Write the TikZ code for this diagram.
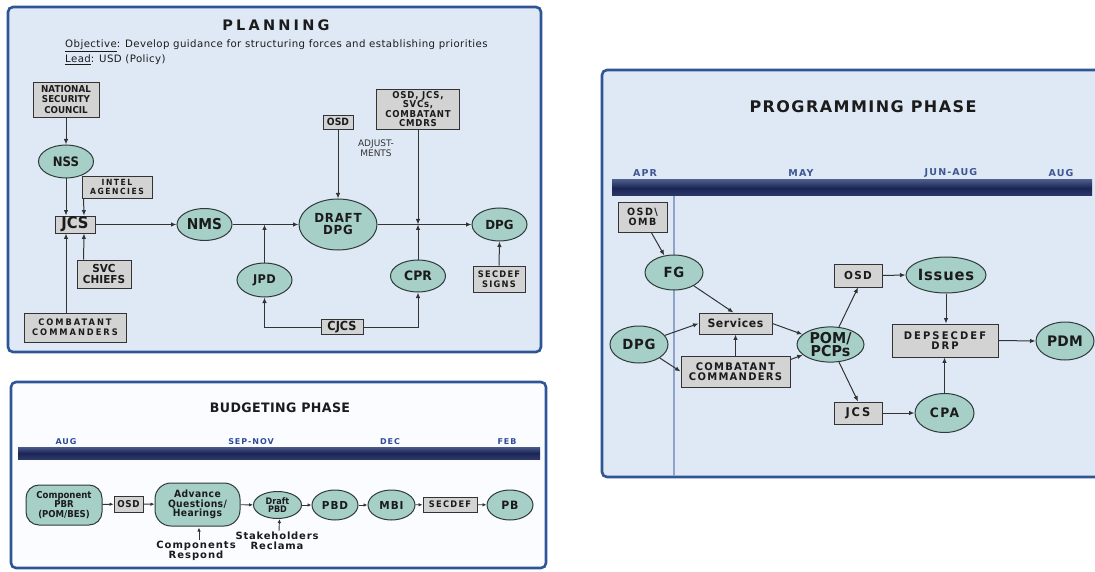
\documentclass[tikz,border=0pt]{standalone}
\usepackage{fontspec}
\setmainfont{DejaVu Sans}
\usetikzlibrary{arrows.meta,shapes.geometric,shadows,calc}

\definecolor{panelfill}{HTML}{DFE9F6}
\definecolor{budgetfill}{HTML}{FBFCFF}
\definecolor{panelline}{HTML}{2F5597}
\definecolor{ovalfill}{HTML}{A6CFC8}
\definecolor{ovalline}{HTML}{2E3B39}
\definecolor{boxfill}{HTML}{D3D3D3}
\definecolor{boxline}{HTML}{333333}
\definecolor{bartop}{HTML}{4A5A88}
\definecolor{barmid}{HTML}{1B2656}
\definecolor{barbot}{HTML}{2C3968}
\definecolor{monthblue}{HTML}{2E4C96}
\definecolor{inkdark}{HTML}{1B1B1B}
\definecolor{divider}{HTML}{8FA3C9}

% bold label font: size, leading, letter spacing, horizontal stretch
\newcommand{\lbl}[4]{\fontsize{#1}{#2}\selectfont\bfseries\addfontfeature{LetterSpace=#3,FakeStretch=#4}}
% regular body text of the planning header
\newcommand{\hdr}{\fontsize{10.2}{11}\selectfont\addfontfeature{LetterSpace=4}}

\tikzset{
  oval/.style={ellipse, draw=ovalline, line width=1pt, fill=ovalfill,
    inner sep=0pt, align=center, text=inkdark},
  rbox/.style={rectangle, draw=boxline, line width=0.9pt, fill=boxfill,
    inner sep=0pt, align=center, text=inkdark,
    general shadow={fill=black!55, shadow xshift=0.9pt, shadow yshift=-0.9pt}},
  pill/.style={rectangle, draw=ovalline, line width=1pt, fill=ovalfill,
    inner sep=0pt, align=center, text=inkdark},
  flow/.style={-{Latex[length=5.5pt,width=4.5pt]}, line width=1pt, draw=boxline},
  flowsm/.style={-{Latex[length=4pt,width=3.5pt]}, line width=0.9pt, draw=boxline},
  panel/.style={draw=panelline, line width=2.6pt, rounded corners=5pt},
  month/.style={text=monthblue, inner sep=0pt},
  tbar/.style={top color=bartop, bottom color=barbot, middle color=barmid},
  plain/.style={inner sep=0pt, align=center, text=inkdark}
}

\begin{document}
\begin{tikzpicture}[x=1pt,y=-1pt]
\useasboundingbox (0,0) rectangle (1095,572);
\fill[white] (0,0) rectangle (1095,572);

% ---------------- PLANNING ----------------
\draw[panel, fill=panelfill] (8,7) rectangle (541,352);
\node[plain, font={\lbl{14.5}{15}{22}{1}}] (plantitle) at (276,25) {PLANNING};
\node[plain, anchor=west, font=\hdr] (objline) at (65,46)
  {\underline{Objective}: Develop guidance for structuring forces and establishing priorities};
\node[plain, anchor=west, font=\hdr] (leadline) at (65,60)
  {\underline{Lead}: USD (Policy)};

\node[rbox, minimum width=66pt, minimum height=35pt, font={\lbl{9.5}{10.5}{0}{0.92}}] (nsc) at (66,99.5) {NATIONAL\\SECURITY\\COUNCIL};
\node[oval, minimum width=55pt, minimum height=33pt, font={\lbl{13}{13}{0}{0.9}}] (nss) at (66,161.5) {NSS};
\node[rbox, minimum width=70pt, minimum height=22pt, font={\lbl{8.5}{9}{18}{0.9}}] (intel) at (117,187) {INTEL\\AGENCIES};
\node[rbox, minimum width=40pt, minimum height=17pt, font={\lbl{16}{16}{0}{0.92}}] (jcs) at (75,224.5) {JCS};
\node[oval, minimum width=55pt, minimum height=32pt, font={\lbl{15}{15}{0}{0.92}}] (nms) at (204.5,224.5) {NMS};
\node[oval, minimum width=78pt, minimum height=51pt, font={\lbl{12.5}{12}{6}{0.95}}] (draft) at (338,224.5) {DRAFT\\DPG};
\node[oval, minimum width=55pt, minimum height=33pt, font={\lbl{12.5}{12.5}{0}{0.95}}] (dpgp) at (499.5,224.5) {DPG};
\node[rbox, minimum width=54pt, minimum height=28pt, font={\lbl{11}{11}{0}{0.95}}] (svc) at (104,274) {SVC\\CHIEFS};
\node[oval, minimum width=55pt, minimum height=34pt, font={\lbl{12}{12}{2}{0.95}}] (jpd) at (264.5,280) {JPD};
\node[oval, minimum width=55pt, minimum height=32pt, font={\lbl{13}{13}{0}{0.95}}] (cpr) at (418,276) {CPR};
\node[rbox, minimum width=52pt, minimum height=26pt, font={\lbl{9}{9.5}{14}{0.92}}] (signs) at (499,279) {SECDEF\\SIGNS};
\node[rbox, minimum width=102pt, minimum height=29pt, font={\lbl{9}{10}{22}{0.92}}] (cc) at (75,327.5) {COMBATANT\\COMMANDERS};
\node[rbox, minimum width=42pt, minimum height=15pt, font={\lbl{12.5}{12}{0}{0.9}}] (cjcs) at (342,327) {CJCS};
\node[rbox, minimum width=30pt, minimum height=14pt, font={\lbl{10}{10}{0}{0.92}}] (osdp) at (338,122) {OSD};
\node[rbox, minimum width=83pt, minimum height=40pt, font={\lbl{9.5}{9.2}{8}{0.9}}] (adj) at (418,109) {OSD, JCS,\\SVCs,\\COMBATANT\\CMDRS};
\node[plain, font={\fontsize{9}{10}\selectfont}, text=black!80] (adjlbl) at (376,148) {ADJUST-\\MENTS};

\draw[flow] (nsc.south) -- (nsc.south |- nss.north);
\draw[flow] (nss.south) -- (nss.south |- jcs.north);
\draw[flow] ($(intel.south west)+(2,0)$) -- ($(jcs.north)+(9,0)$);
\draw[flow] ($(svc.north west)+(7,0)$) -- ($(jcs.south)+(9,0)$);
\draw[flow] ($(cc.north)+(-9,0)$) -- ($(jcs.south)+(-9,0)$);
\draw[flow] (jcs.east) -- (nms.west);
\draw[flow] (nms.east) -- (draft.west);
\draw[flow] (jpd.north) -- (jpd.north |- nms.east);
\draw[flow] (osdp.south) -- (osdp.south |- draft.north);
\draw[flow] (draft.east) -- (dpgp.west);
\draw[flow] (adj.south) -- (adj.south |- draft.east);
\draw[flow] (cpr.north) -- (cpr.north |- draft.east);
\draw[flow] (signs.north) -- (dpgp.south);
\draw[flow] (cjcs.west) -| (jpd.south);
\draw[flow] (cjcs.east) -| (cpr.south);

% ---------------- BUDGETING ----------------
\draw[panel, fill=budgetfill] (11,382) rectangle (546,568);
\node[plain, font={\lbl{13}{13}{3}{0.97}}] (budtitle) at (280,408) {BUDGETING PHASE};
\node[month, font={\lbl{8}{8}{12}{1}}] (baug) at (66,442) {AUG};
\node[month, font={\lbl{8}{8}{12}{1}}] (bsep) at (251,442) {SEP-NOV};
\node[month, font={\lbl{8}{8}{12}{1}}] (bdec) at (390,442) {DEC};
\node[month, font={\lbl{8}{8}{12}{1}}] (bfeb) at (507,442) {FEB};
\shade[tbar] (18,447) rectangle (540,459);

\node[pill, rounded corners=13pt, minimum width=76pt, minimum height=40pt, font={\lbl{9.5}{9.2}{0}{0.9}}] (pbr) at (64,505) {Component\\PBR\\(POM/BES)};
\node[rbox, minimum width=29pt, minimum height=16pt, font={\lbl{9.5}{10}{6}{0.92}}] (osdb) at (128.5,504) {OSD};
\node[pill, rounded corners=16pt, minimum width=85pt, minimum height=43pt, font={\lbl{10}{9.5}{4}{0.92}}] (adv) at (197.5,504.5) {Advance\\Questions/\\Hearings};
\node[oval, minimum width=48pt, minimum height=27pt, font={\lbl{9}{8.5}{0}{0.9}}] (dpbd) at (277.5,505) {Draft\\PBD};
\node[oval, minimum width=46pt, minimum height=30pt, font={\lbl{11}{11}{8}{0.95}}] (pbd) at (335,505) {PBD};
\node[oval, minimum width=47pt, minimum height=30pt, font={\lbl{11}{11}{8}{0.95}}] (mbi) at (391.5,505) {MBI};
\node[rbox, minimum width=54pt, minimum height=15pt, font={\lbl{9}{9}{14}{0.92}}] (secdef) at (450,504.5) {SECDEF};
\node[oval, minimum width=46pt, minimum height=30pt, font={\lbl{11.5}{11.5}{6}{0.95}}] (pb) at (510,505) {PB};
\node[plain, font={\lbl{10}{10}{10}{1}}] (resp) at (196,551) {Components\\Respond};
\node[plain, font={\lbl{10}{10}{8}{1}}] (stake) at (277,541) {Stakeholders\\Reclama};

\draw[flowsm] (pbr) -- (osdb);
\draw[flowsm] (osdb) -- (adv);
\draw[flowsm] (adv) -- (dpbd);
\draw[flowsm] (dpbd) -- (pbd);
\draw[flowsm] (pbd) -- (mbi);
\draw[flowsm] (mbi) -- (secdef);
\draw[flowsm] (secdef) -- (pb);
\draw[flowsm] ($(resp.north)+(3,-1)$) -- ($(adv.south)+(1.5,1)$);
\draw[flowsm] ($(stake.north)+(2,-1)$) -- ($(dpbd.south)+(2,0)$);

% ---------------- PROGRAMMING ----------------
\begin{scope}
\clip (0,0) rectangle (1095,572);
\draw[panel, fill=panelfill] (602,70) rectangle (1110,477);
\end{scope}
\node[plain, font={\lbl{16}{16}{9}{1}}] (progtitle) at (863,107) {PROGRAMMING PHASE};
\node[month, font={\lbl{9.5}{9.5}{12}{1}}, text=monthblue!80!gray] (papr) at (645,173) {APR};
\node[month, font={\lbl{9.5}{9.5}{12}{1}}, text=monthblue!80!gray] (pmay) at (801,173) {MAY};
\node[month, font={\lbl{9.5}{9.5}{12}{1}}, text=monthblue!80!gray] (pjun) at (951,173) {JUN-AUG};
\node[month, font={\lbl{9.5}{9.5}{12}{1}}, text=monthblue!80!gray] (paug) at (1061,173) {AUG};
\shade[tbar] (612,180) rectangle (1092,196);
\draw[divider, line width=1.2pt] (674,196) -- (674,476);

\node[rbox, minimum width=49pt, minimum height=30pt, font={\lbl{10}{10.5}{15}{0.95}}] (osdomb) at (642.5,217) {OSD\textbackslash\\OMB};
\node[oval, minimum width=58pt, minimum height=35pt, font={\lbl{14}{14}{4}{0.95}}] (fg) at (674,272.5) {FG};
\node[oval, minimum width=58pt, minimum height=37pt, font={\lbl{14}{14}{5}{0.95}}] (dpg) at (639,344.5) {DPG};
\node[rbox, minimum width=73pt, minimum height=21pt, font={\lbl{11.5}{11.5}{5}{0.95}}] (services) at (735.5,323.5) {Services};
\node[rbox, minimum width=109pt, minimum height=31pt, font={\lbl{10.5}{10.5}{12}{0.95}}] (pcc) at (735.5,371.5) {COMBATANT\\COMMANDERS};
\node[oval, minimum width=67pt, minimum height=35pt, font={\lbl{15}{12.5}{0}{0.95}}] (pom) at (830.5,344.5) {POM/\\PCPs};
\node[rbox, minimum width=48pt, minimum height=23pt, font={\lbl{11}{11}{12}{0.95}}] (osd2) at (858,275.5) {OSD};
\node[oval, minimum width=80pt, minimum height=36pt, font={\lbl{15.5}{15.5}{5}{0.95}}] (issues) at (946,275) {Issues};
\node[rbox, minimum width=106pt, minimum height=33pt, font={\lbl{10.5}{10.5}{20}{0.95}}] (drp) at (945,340.5) {DEPSECDEF\\DRP};
\node[oval, minimum width=58pt, minimum height=38pt, font={\lbl{14.5}{14.5}{2}{0.95}}] (pdm) at (1065,341) {PDM};
\node[rbox, minimum width=48pt, minimum height=22pt, font={\lbl{12}{12}{15}{0.95}}] (jcs2) at (858,413) {JCS};
\node[oval, minimum width=59pt, minimum height=39pt, font={\lbl{13}{13}{10}{0.95}}] (cpa) at (944.5,413) {CPA};

\draw[flow] (osdomb) -- (fg);
\draw[flow] (fg) -- ($(services.north)+(-2,0)$);
\draw[flow] (dpg) -- (services.west);
\draw[flow] (dpg) -- (pcc.west);
\draw[flow] (pcc.north) -- (services.south);
\draw[flow] (services.east) -- (pom);
\draw[flow] ($(pcc.north east)+(0,4)$) -- (pom);
\draw[flow] (pom) -- (osd2.south);
\draw[flow] (pom) -- (jcs2.north);
\draw[flow] (osd2.east) -- (issues.west);
\draw[flow] (issues.south) -- (issues.south |- drp.north);
\draw[flow] (jcs2.east) -- (cpa.west);
\draw[flow] (cpa.north) -- (cpa.north |- drp.south);
\draw[flow] (drp.east) -- (pdm.west);
\end{tikzpicture}
\end{document}
